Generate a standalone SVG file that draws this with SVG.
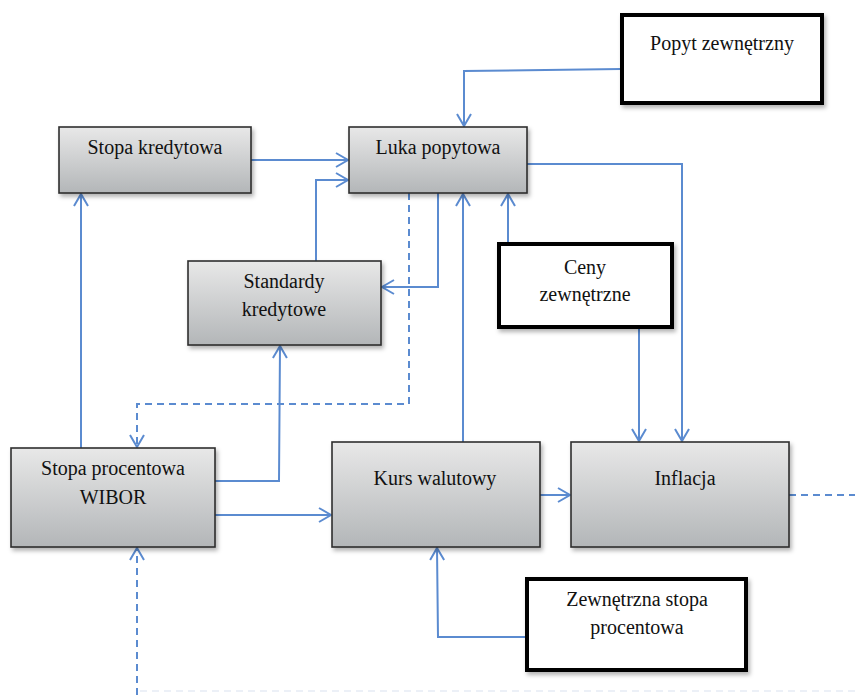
<svg xmlns="http://www.w3.org/2000/svg" width="855" height="695" viewBox="0 0 855 695">
<style>
.box{stroke:#2e2e2e;stroke-width:1.6;fill:url(#g)}
.ext{stroke:#000;stroke-width:4;fill:#fff}
.t{font-family:"Liberation Serif","DejaVu Serif",serif;font-size:20px;fill:#111;text-anchor:middle}
.c{fill:none;stroke:#5b8bd0;stroke-width:2}
.d{stroke-dasharray:7 5}
</style>
<defs>
<linearGradient id="g" x1="0" y1="0" x2="0" y2="1">
<stop offset="0" stop-color="#e8e8e8"/>
<stop offset="1" stop-color="#b3b6b8"/>
</linearGradient>
<filter id="sh" x="-10%" y="-10%" width="125%" height="130%">
<feDropShadow dx="2" dy="3" stdDeviation="2" flood-color="#000" flood-opacity="0.3"/>
</filter>
<marker id="arr" markerWidth="16" markerHeight="18" refX="14" refY="9" orient="auto" markerUnits="userSpaceOnUse">
<path d="M2,2 L14,9 L2,16" fill="none" stroke="#5b8bd0" stroke-width="2"/>
</marker>
</defs>
<rect width="855" height="695" fill="#fff"/>
<g id="connectors">
<path class="c" d="M621,69 L464,71 L464,126" marker-end="url(#arr)"/>
<path class="c" d="M251,160 L348,160" marker-end="url(#arr)"/>
<path class="c" d="M316,261 L316,180 L348,180" marker-end="url(#arr)"/>
<path class="c" d="M438,193 L438,287 L382,287" marker-end="url(#arr)"/>
<path class="c d" d="M409,193 L409,404 L137,404 L137,447" marker-end="url(#arr)"/>
<path class="c" d="M463,442 L463,194" marker-end="url(#arr)"/>
<path class="c" d="M508,243 L508,194" marker-end="url(#arr)"/>
<path class="c" d="M527,164 L682,164 L682,441" marker-end="url(#arr)"/>
<path class="c" d="M639,328 L639,441" marker-end="url(#arr)"/>
<path class="c" d="M81,448 L81,194" marker-end="url(#arr)"/>
<path class="c" d="M215,481 L279,481 L280,346" marker-end="url(#arr)"/>
<path class="c" d="M215,515 L331,515" marker-end="url(#arr)"/>
<path class="c" d="M540,495 L570,495" marker-end="url(#arr)"/>
<path class="c d" d="M789,495 L855,495"/>
<path class="c d" d="M137,695 L137,548" marker-end="url(#arr)"/>
<path class="c" d="M526,637 L438,637 L437,548" marker-end="url(#arr)"/>
<path class="d" d="M140,691 L855,691" stroke="#e6ecf5" stroke-width="1.5" fill="none"/>
</g>
<g id="stopa-kredytowa">
<rect class="box" x="59" y="127" width="192" height="66" filter="url(#sh)"/>
<text class="t" x="155" y="154">Stopa kredytowa</text>
</g>
<g id="luka-popytowa">
<rect class="box" x="349" y="127" width="178" height="66" filter="url(#sh)"/>
<text class="t" x="438" y="154">Luka popytowa</text>
</g>
<g id="popyt-zewnetrzny">
<rect class="ext" x="622" y="15" width="200" height="88" filter="url(#sh)"/>
<text class="t" x="722" y="50">Popyt zewnętrzny</text>
</g>
<g id="standardy-kredytowe">
<rect class="box" x="188" y="261" width="193" height="84" filter="url(#sh)"/>
<text class="t" x="284" y="288">Standardy</text>
<text class="t" x="284" y="316">kredytowe</text>
</g>
<g id="ceny-zewnetrzne">
<rect class="ext" x="499" y="244" width="173" height="83" filter="url(#sh)"/>
<text class="t" x="585" y="274">Ceny</text>
<text class="t" x="585" y="301">zewnętrzne</text>
</g>
<g id="stopa-procentowa">
<rect class="box" x="11" y="448" width="204" height="99" filter="url(#sh)"/>
<text class="t" x="113" y="475">Stopa procentowa</text>
<text class="t" x="113" y="504">WIBOR</text>
</g>
<g id="kurs-walutowy">
<rect class="box" x="332" y="442" width="208" height="105" filter="url(#sh)"/>
<text class="t" x="435" y="485">Kurs walutowy</text>
</g>
<g id="inflacja">
<rect class="box" x="571" y="442" width="218" height="105" filter="url(#sh)"/>
<text class="t" x="685" y="485">Inflacja</text>
</g>
<g id="zewnetrzna-stopa">
<rect class="ext" x="527" y="579" width="219" height="91" filter="url(#sh)"/>
<text class="t" x="637" y="606">Zewnętrzna stopa</text>
<text class="t" x="637" y="634">procentowa</text>
</g>
</svg>
